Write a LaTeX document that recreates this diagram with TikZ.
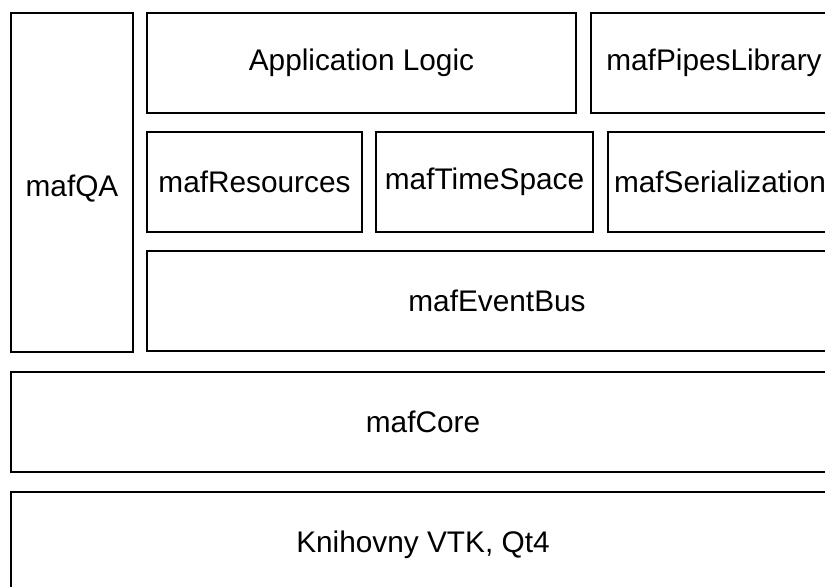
\documentclass[tikz,border=0pt]{standalone}
\usepackage{fontspec}
\setmainfont{Liberation Sans}
\usetikzlibrary{positioning}

\begin{document}
\begin{tikzpicture}[
  thick,
  every node/.style={font=\fontsize{14.9}{17}\selectfont},
  layer/.style={draw, outer sep=0pt, inner sep=0pt, minimum height=50pt, anchor=north west}
]
  % page frame, the wide layers run past its right edge
  \useasboundingbox (0,0) rectangle (412.5pt,-293.5pt);
  \clip (0,0) rectangle (412.5pt,-293.5pt);

  % Left column
  \node (qa) [layer, minimum width=61pt, minimum height=169.5pt, text height=14.5pt, text depth=0pt] at (5.5pt,-6.5pt) {mafQA};

  % Top row
  \node (app) [layer, minimum width=214.5pt, right=7pt of qa.north east, anchor=north west] {Application Logic};
  \node (pipes) [layer, minimum width=123pt, right=7.5pt of app.north east, anchor=north west] {mafPipesLibrary};

  % Middle row
  \node (res) [layer, minimum width=107.5pt, below=9.5pt of app.south west, anchor=north west] {mafResources};
  \node (time) [layer, minimum width=108.5pt, right=7pt of res.north east, anchor=north west] {mafTimeSpace};
  \node (ser) [layer, minimum width=112pt, right=7.5pt of time.north east, anchor=north west] {mafSerialization};

  % Bus under the modules
  \node (bus) [layer, minimum width=350pt, below=9.5pt of res.south west, anchor=north west] {mafEventBus};

  % Full width layers
  \node (core) [layer, minimum width=412pt, below=10pt of qa.south west, anchor=north west] {mafCore};
  \node (libs) [layer, minimum width=412pt, minimum height=53pt, below=10pt of core.south west, anchor=north west] {Knihovny VTK, Qt4};
\end{tikzpicture}
\end{document}
